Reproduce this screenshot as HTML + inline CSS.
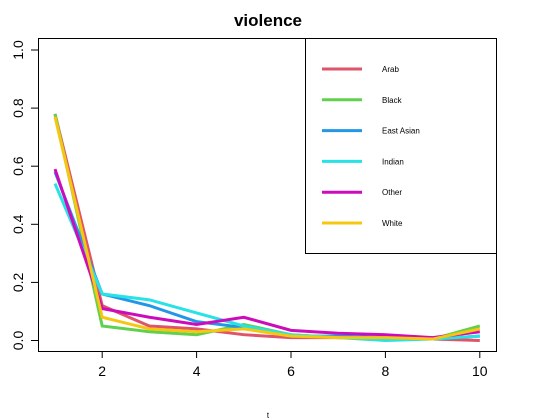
<!DOCTYPE html>
<html><head><meta charset="utf-8"><style>
body{margin:0;background:#fff}
svg{display:block;font-family:"Liberation Sans",sans-serif}
</style></head><body>
<svg id="chart" width="555" height="419" viewBox="0 0 555 419" xmlns="http://www.w3.org/2000/svg">
<text x="268" y="26" text-anchor="middle" font-size="17" font-weight="bold">violence</text>
<rect x="38.5" y="38.5" width="458" height="313" fill="none" stroke="#000"/>
<g id="axes"></g>
<g id="series"></g>
<text x="268" y="418" text-anchor="middle" font-size="8">t</text>
<rect x="305.5" y="38.5" width="191" height="215" fill="#fff" stroke="#000"/>
<g id="legend"></g>
</svg>
<script>
const xs=[1,2,3,4,5,6,7,8,9,10];
const names=["Arab","Black","East Asian","Indian","Other","White"];
const colors=["#DF536B","#61D04F","#2297E6","#28E2E5","#CD0BBC","#F5C710"];
const arab=[0.78,0.12,0.05,0.04,0.02,0.01,0.01,0.01,0.005,0.0];
const black=[0.78,0.05,0.03,0.02,0.055,0.02,0.01,0.01,0.005,0.05];
const eastAsian=[0.58,0.16,0.12,0.065,0.045,0.015,0.015,0.01,0.005,0.015];
const indian=[0.54,0.16,0.14,0.095,0.05,0.02,0.01,0.0,0.005,0.015];
const other=[0.59,0.11,0.08,0.055,0.08,0.035,0.025,0.02,0.01,0.03];
const white=[0.77,0.08,0.04,0.03,0.04,0.015,0.01,0.01,0.005,0.04];
const series=[arab,black,eastAsian,indian,other,white];
const xTicks=[2,4,6,8,10];
const yTicks=[0,0.2,0.4,0.6,0.8,1.0];
const X=v=>55+(v-1)*47.2;
const Y=v=>340.5-v*290.5;
const NS="http://www.w3.org/2000/svg";
const ax=document.getElementById('axes');
function mk(tag,attrs,parent){const e=document.createElementNS(NS,tag);for(const k in attrs)e.setAttribute(k,attrs[k]);parent.appendChild(e);return e;}
xTicks.forEach(t=>{
 const l=mk('line',{x1:X(t),x2:X(t),y1:351,y2:358,stroke:'#000'},ax);
 
 
 const tx=mk('text',{x:X(t),y:376,'text-anchor':'middle','font-size':14},ax);
 tx.textContent=t;
 
 
});
yTicks.forEach(t=>{
 const l=mk('line',{x1:31,x2:38,y1:Y(t),y2:Y(t),stroke:'#000'},ax);
 
 
 const tx=mk('text',{x:0,y:0,'text-anchor':'middle','font-size':14,transform:`translate(23,${Y(t)}) rotate(-90)`},ax);
 tx.textContent=t.toFixed(1);
 
 
});
const sg=document.getElementById('series');
series.forEach((s,i)=>{
 const p=mk('polyline',{points:s.map((v,j)=>X(xs[j])+','+Y(v)).join(' '),fill:'none',stroke:colors[i],'stroke-width':3},sg);
 
 
});
const lg=document.getElementById('legend');
names.forEach((n,i)=>{
 const y=69+i*30.8;
 const l=mk('line',{x1:322,x2:362,y1:y,y2:y,stroke:colors[i],'stroke-width':3},lg);
 
 
 const t=mk('text',{x:382,y:y+3,'font-size':8},lg);
 t.textContent=n;
 
 
});
</script>
</body></html>
